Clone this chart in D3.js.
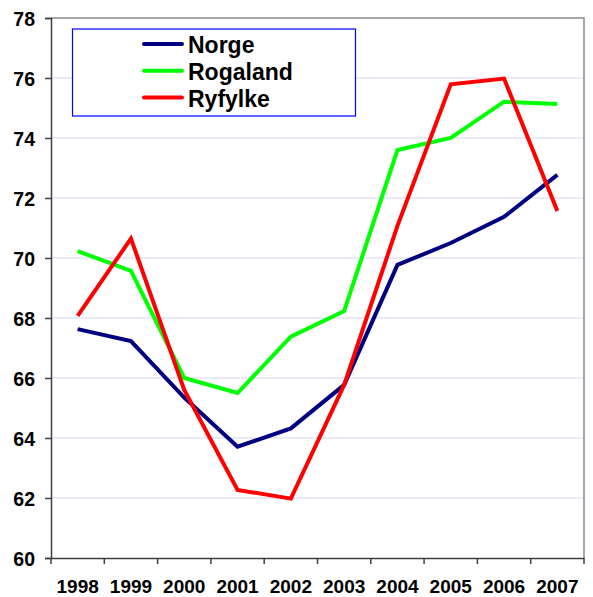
<!DOCTYPE html>
<html>
<head>
<meta charset="utf-8">
<script src="https://cdn.jsdelivr.net/npm/d3@7"></script>
<style>
  body { margin: 0; background: #fff; }
  svg { display: block; font-family: "Liberation Sans", Arial, sans-serif; }
</style>
</head>
<body>
<svg id="chart" width="593" height="597"></svg>
<script>
const years = ["1998","1999","2000","2001","2002","2003","2004","2005","2006","2007"];
const norge    = [67.63, 67.23, 65.35, 63.71, 64.32, 65.77, 69.77, 70.5, 71.37, 72.77];
const rogaland = [70.23, 69.57, 66.0, 65.5, 67.38, 68.23, 73.6, 74.0, 75.21, 75.13];
const ryfylke  = [68.07, 70.65, 65.6, 62.27, 61.98, 65.77, 71.07, 75.79, 75.98, 71.57];
const yTicks = [60, 62, 64, 66, 68, 70, 72, 74, 76, 78];

const series = [
  { name: "Norge", values: norge, color: "#000080" },
  { name: "Rogaland", values: rogaland, color: "#00ff00" },
  { name: "Ryfylke", values: ryfylke, color: "#ff0000" }
];

const svg = d3.select("#chart");
const plot = { left: 51, right: 584, top: 18, bottom: 558 };

const x = d3.scaleBand().domain(years).range([plot.left, plot.right]);
const y = d3.scaleLinear().domain([60, 78]).range([plot.bottom, plot.top]);

// horizontal gridlines
svg.append("g").selectAll("line").data(yTicks.filter(t => t > 60 && t < 78)).join("line")
  .attr("x1", plot.left).attr("x2", plot.right)
  .attr("y1", d => y(d)).attr("y2", d => y(d))
  .attr("stroke", "#d4d4f4").attr("stroke-width", 1);

// top and right frame
svg.append("path")
  .attr("d", `M${plot.left},${plot.top}H${plot.right}V${plot.bottom}`)
  .attr("fill", "none").attr("stroke", "#8c8c8c").attr("stroke-width", 1.5);

// y axis
const yAxis = svg.append("g").attr("transform", `translate(${plot.left},0)`)
  .call(d3.axisLeft(y).tickValues(yTicks).tickSize(6).tickPadding(10).tickFormat(d3.format("d")));
yAxis.select(".domain").attr("stroke", "#404040").attr("stroke-width", 1.5);
yAxis.selectAll(".tick line").attr("stroke", "#404040").attr("stroke-width", 1.5);
yAxis.selectAll("text").attr("fill", "#000").style("font-size", "19.5px").style("font-weight", "bold")
  .attr("dy", "0.36em");

// x axis with ticks at category boundaries
const xAxis = svg.append("g").attr("transform", `translate(0,${plot.bottom})`)
  .call(d3.axisBottom(x).tickSize(0).tickPadding(22));
xAxis.select(".domain").attr("stroke", "#404040").attr("stroke-width", 1.5);
xAxis.selectAll("text").attr("fill", "#000").style("font-size", "19px").style("font-weight", "bold");
const bounds = years.map(d => x(d)).concat([x(years[years.length - 1]) + x.bandwidth()]);
xAxis.append("g").selectAll("line").data(bounds).join("line")
  .attr("x1", d => d).attr("x2", d => d).attr("y1", 0).attr("y2", 6)
  .attr("stroke", "#404040").attr("stroke-width", 1.5);

// series lines
const line = d3.line()
  .x((d, i) => x(years[i]) + x.bandwidth() / 2)
  .y(d => y(d));

svg.append("g").selectAll("path").data(series).join("path")
  .attr("d", d => line(d.values))
  .attr("fill", "none")
  .attr("stroke", d => d.color)
  .attr("stroke-width", 4)
  .attr("stroke-linejoin", "miter");

// legend
const legend = svg.append("g");
legend.append("rect")
  .attr("x", 72.5).attr("y", 29).attr("width", 283).attr("height", 87)
  .attr("fill", "#fff").attr("stroke", "#0000ff").attr("stroke-width", 1.2);
const items = legend.selectAll("g.item").data(series).join("g").attr("class", "item")
  .attr("transform", (d, i) => `translate(0,${44 + i * 26.7})`);
items.append("line")
  .attr("x1", 144).attr("x2", 182).attr("y1", 0).attr("y2", 0)
  .attr("stroke", d => d.color).attr("stroke-width", 4).attr("stroke-linecap", "round");
items.append("text")
  .attr("x", 188).attr("y", 1).attr("dy", "0.36em")
  .style("font-size", "23px").style("font-weight", "bold")
  .text(d => d.name);
</script>
</body>
</html>
